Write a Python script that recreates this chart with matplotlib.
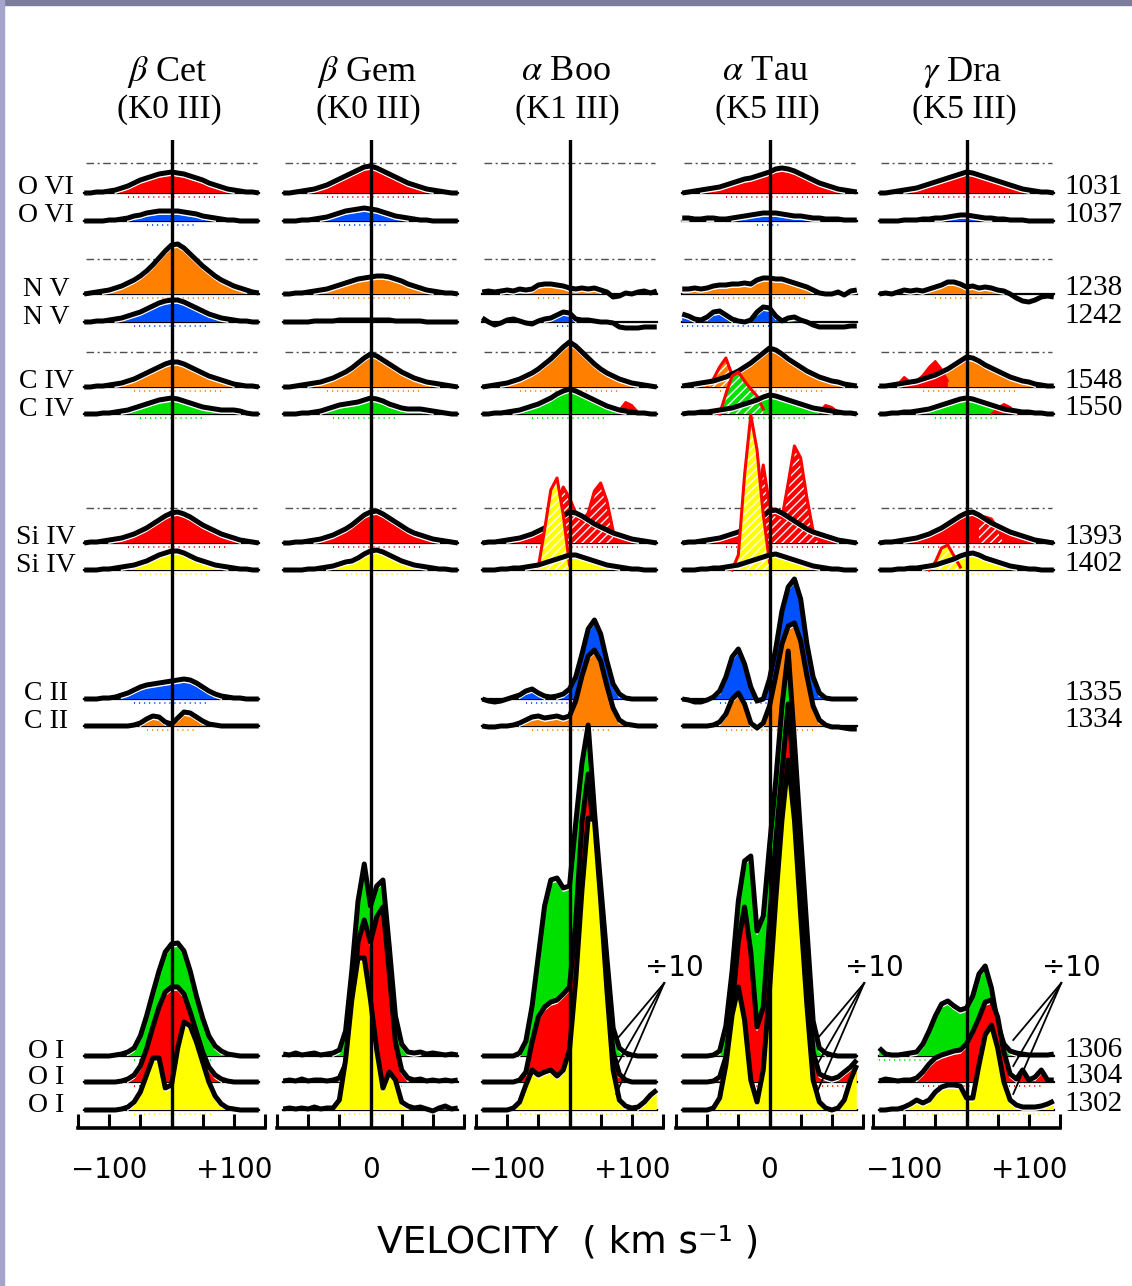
import numpy as np
import matplotlib.pyplot as plt
from matplotlib.patches import Rectangle
from matplotlib import transforms

plt.rcParams['mathtext.fontset'] = 'stix'
plt.rcParams['hatch.color'] = 'white'
plt.rcParams['hatch.linewidth'] = 1.0

# velocity grid of the tabulated profiles (km/s)
VEL = [-140, -130, -120, -110, -100, -90, -80, -70, -60, -50, -40, -30, -20, -10,
       0, 10, 20, 30, 40, 50, 60, 70, 80, 90, 100, 110, 120, 130, 140]

IONS = ['O VI', 'O VI', 'N V', 'N V', 'C IV', 'C IV', 'Si IV', 'Si IV',
        'C II', 'C II', 'O I', 'O I', 'O I']
WAVES = ['1031', '1037', '1238', '1242', '1548', '1550', '1393', '1402',
         '1335', '1334', '1306', '1304', '1302']
STARS = [r'$\beta$ Cet', r'$\beta$ Gem', r'$\alpha$ Boo', r'$\alpha$ Tau', r'$\gamma$ Dra']
SPTYPES = ['(K0 III)', '(K0 III)', '(K1 III)', '(K5 III)', '(K5 III)']

# line fluxes (O I shown divided by 10), one list per line, same order as WAVES
BETA_CET = [
    [0, 0, 1, 1, 2, 3, 5, 7, 10, 13, 15, 17, 19, 20, 21, 20, 19, 17, 15, 13, 10, 8, 6, 4, 3, 2, 1, 1, 0],
    [0, 0, 0, 0, 1, 1, 2, 3, 5, 6, 8, 9, 10, 10, 10, 10, 9, 8, 7, 5, 4, 3, 2, 1, 1, 0, 0, 0, 0],
    [0, 1, 2, 3, 4, 6, 8, 11, 14, 18, 23, 29, 36, 43, 49, 50, 46, 40, 34, 28, 23, 18, 14, 11, 8, 6, 4, 2, 1],
    [0, 0, 1, 1, 2, 3, 4, 6, 8, 10, 13, 16, 19, 21, 22, 22, 20, 17, 14, 11, 8, 6, 4, 3, 2, 1, 1, 0, 0],
    [0, 0, 1, 1, 2, 3, 4, 6, 8, 11, 14, 17, 20, 23, 25, 25, 23, 20, 17, 14, 11, 9, 7, 5, 3, 2, 1, 1, 0],
    [0, 0, 0, 1, 1, 2, 3, 4, 6, 8, 10, 12, 14, 15, 16, 15, 13, 11, 9, 7, 6, 5, 4, 4, 4, 3, 1, 0, 0],
    [0, 1, 1, 2, 3, 4, 5, 7, 9, 12, 15, 19, 23, 27, 30, 31, 29, 26, 22, 18, 15, 12, 9, 7, 5, 3, 2, 1, 0],
    [0, 0, 0, 1, 1, 2, 3, 4, 5, 7, 9, 12, 15, 17, 19, 19, 17, 14, 11, 9, 7, 5, 4, 3, 2, 1, 1, 0, 0],
    [0, 0, 0, 1, 1, 2, 4, 6, 9, 12, 14, 15, 16, 17, 18, 19, 20, 19, 16, 12, 8, 5, 3, 2, 1, 1, 0, 0, 0],
    [0, 0, 0, 0, 0, 0, 0, 0, 1, 3, 7, 10, 9, 4, 2, 8, 14, 13, 9, 5, 2, 1, 0, 0, 0, 0, 0, 0, 0],
    [0, 0, 0, 0, 0, 1, 2, 4, 8, 20, 40, 63, 85, 104, 112, 113, 105, 85, 60, 38, 20, 10, 5, 2, 1, 0, 0, 0, 0],
    [0, 0, 0, 0, 0, 0, 1, 3, 7, 16, 33, 55, 75, 90, 95, 95, 88, 70, 50, 30, 15, 7, 3, 1, 0, 0, 0, 0, 0],
    [0, 0, 0, 0, 0, 0, 1, 3, 8, 18, 35, 52, 52, 22, 25, 62, 88, 84, 68, 48, 28, 14, 6, 2, 1, 0, 0, 0, 0],
]

BETA_GEM = [
    [0, 0, 1, 2, 3, 4, 6, 8, 11, 14, 17, 20, 23, 26, 27, 25, 22, 19, 16, 13, 10, 8, 6, 4, 3, 2, 1, 0, 0],
    [0, 0, 0, 1, 1, 2, 3, 4, 6, 8, 10, 11, 12, 13, 12, 11, 9, 7, 5, 4, 3, 2, 1, 1, 0, 0, 0, 0, 0],
    [0, 0, 1, 1, 2, 3, 4, 5, 7, 9, 11, 13, 15, 16, 17, 18, 18, 17, 15, 13, 10, 8, 6, 4, 3, 2, 1, 1, 0],
    [0, 0, 0, 0, 0, 1, 1, 1, 1, 2, 2, 2, 2, 2, 2, 2, 2, 2, 1, 1, 1, 1, 1, 0, 0, 0, 0, 0, 0],
    [0, 0, 1, 2, 3, 4, 5, 7, 9, 12, 15, 19, 24, 29, 33, 31, 27, 23, 19, 15, 12, 9, 7, 5, 4, 3, 2, 1, 0],
    [0, 0, 0, 1, 1, 2, 3, 5, 7, 9, 10, 11, 12, 14, 16, 15, 13, 10, 8, 6, 5, 5, 5, 4, 3, 2, 1, 0, 0],
    [0, 0, 1, 1, 2, 3, 4, 6, 8, 11, 14, 18, 23, 28, 31, 32, 29, 25, 21, 17, 13, 10, 8, 6, 4, 3, 2, 1, 0],
    [0, 0, 0, 0, 1, 1, 2, 3, 4, 6, 8, 9, 12, 16, 19, 20, 18, 15, 12, 9, 7, 5, 4, 3, 2, 1, 1, 0, 0],
    None,
    None,
    [2, 1, 3, 1, 2, 3, 1, 2, 3, 6, 25, 85, 155, 192, 150, 170, 176, 110, 40, 12, 4, 3, 4, 2, 3, 2, 1, 2, 1],
    [1, 2, 1, 3, 1, 2, 2, 1, 2, 4, 18, 70, 140, 162, 140, 165, 175, 110, 40, 12, 4, 2, 3, 1, 2, 1, 2, 1, 2],
    [1, 2, 1, 2, 1, 3, 1, 2, 2, 10, 50, 110, 152, 152, 110, 60, 22, 38, 30, 8, 4, 2, 3, 1, -1, 2, 4, 1, 2],
]

ALPHA_BOO = [
    None,
    None,
    [2, 3, 2, 3, 4, 3, 5, 4, 5, 9, 10, 10, 9, 8, 6, 5, 6, 5, 6, 4, 2, -3, -2, 1, 0, 2, 3, 1, 3],
    [4, 0, -3, -1, 2, 3, 1, -1, -2, 1, 3, 4, 7, 10, 9, 3, 2, 2, 1, 0, 0, -1, -5, -6, -6, -6, -5, -5, -5],
    [0, 1, 2, 3, 4, 6, 8, 11, 14, 18, 23, 28, 34, 40, 45, 41, 35, 29, 23, 18, 14, 11, 8, 6, 4, 3, 2, 1, 0],
    [0, 0, 1, 1, 2, 3, 4, 6, 8, 10, 13, 16, 20, 23, 25, 23, 20, 17, 14, 11, 8, 6, 4, 3, 2, 1, 1, 0, 0],
    [0, 1, 1, 2, 3, 4, 5, 7, 9, 12, 15, 19, 23, 27, 31, 30, 27, 23, 19, 16, 13, 10, 8, 6, 4, 3, 2, 1, 0],
    [0, 0, 0, 1, 1, 2, 2, 3, 4, 5, 7, 9, 11, 13, 15, 15, 13, 11, 9, 7, 5, 4, 3, 2, 1, 1, 0, 0, 0],
    [0, -2, -3, -2, 0, 2, 4, 8, 10, 6, 3, 2, 3, 5, 10, 22, 45, 70, 79, 65, 38, 15, 5, 1, 0, 0, 0, 0, 0],
    [0, -1, -1, 0, 0, 1, 3, 6, 9, 10, 8, 9, 10, 8, 10, 25, 50, 70, 76, 65, 40, 18, 6, 2, 1, 0, 0, 0, 0],
    [0, 0, 0, 0, 0, 0, 3, 15, 50, 100, 150, 176, 178, 168, 170, 233, 293, 331, 245, 171, 98, 28, 8, 3, 1, 0, 0, 0, 0],
    [0, 0, 0, 0, 0, 0, 2, 10, 40, 65, 75, 80, 82, 88, 95, 160, 260, 308, 240, 160, 90, 30, 8, 2, 0, 0, 0, 0, 0],
    [0, 0, 0, 0, 0, 2, 8, 25, 40, 35, 38, 40, 34, 40, 60, 130, 220, 292, 290, 210, 120, 40, 10, 4, 2, 3, 8, 15, 20],
]

ALPHA_TAU = [
    [0, 1, 2, 3, 4, 5, 6, 8, 10, 12, 14, 15, 17, 19, 21, 24, 25, 24, 22, 19, 16, 13, 10, 8, 6, 4, 3, 2, 1],
    [3, 3, 2, 2, 3, 3, 2, 2, 3, 4, 5, 6, 7, 8, 8, 8, 7, 6, 5, 5, 4, 3, 3, 2, 2, 2, 1, 1, 1],
    [5, 5, 6, 5, 6, 8, 9, 9, 10, 10, 11, 10, 14, 16, 16, 15, 15, 13, 11, 9, 7, 4, 1, 0, 0, 2, -1, 3, 4],
    [8, 6, 3, 2, 5, 10, 11, 7, 3, 1, 0, 2, 10, 15, 14, 6, 1, 4, 5, 2, 0, -3, -5, -5, -5, -5, -5, -4, -4],
    [1, 2, 3, 4, 5, 6, 8, 10, 13, 16, 20, 24, 29, 34, 39, 37, 33, 28, 24, 20, 16, 13, 10, 8, 6, 5, 3, 2, 1],
    [0, 1, 1, 2, 2, 3, 4, 5, 6, 8, 10, 12, 14, 17, 19, 18, 16, 14, 12, 10, 8, 6, 5, 4, 3, 2, 1, 1, 0],
    [0, 1, 1, 2, 3, 4, 5, 7, 9, 11, 14, 18, 22, 27, 32, 33, 30, 26, 22, 18, 14, 11, 9, 7, 5, 3, 2, 1, 0],
    [0, 0, 0, 1, 1, 2, 2, 3, 4, 5, 7, 9, 11, 13, 15, 16, 14, 12, 10, 8, 6, 4, 3, 2, 1, 1, 0, 0, 0],
    [0, -1, -3, -3, -1, 2, 8, 22, 42, 50, 35, 12, -2, 0, 20, 50, 88, 112, 120, 100, 55, 22, 6, 1, 0, 0, 0, 0, 0],
    [0, 0, 0, 0, 0, 1, 4, 12, 27, 33, 22, 3, -2, 3, 20, 50, 82, 100, 103, 85, 50, 20, 6, 1, -1, -1, -2, -3, -3],
    [0, 0, 0, 0, 0, 1, 5, 30, 85, 155, 195, 200, 125, 140, 210, 275, 350, 405, 315, 220, 127, 35, 8, 3, 1, 0, 0, 0, 0],
    [0, 0, 0, 0, 0, 1, 5, 25, 75, 140, 175, 130, 55, 75, 160, 240, 310, 378, 300, 205, 115, 30, 8, 5, 3, 5, 10, 15, 22],
    [0, 0, 0, 0, 0, 2, 12, 45, 95, 123, 90, 30, 8, 40, 120, 210, 290, 350, 290, 195, 105, 30, 8, 2, 0, 2, 10, 30, 45],
]

GAMMA_DRA = [
    [0, 0, 1, 2, 3, 4, 5, 7, 9, 11, 13, 15, 17, 19, 21, 20, 18, 16, 14, 12, 10, 8, 6, 4, 3, 2, 1, 1, 0],
    [0, 0, 0, 0, 1, 1, 1, 2, 2, 3, 3, 4, 5, 6, 6, 5, 4, 3, 3, 2, 2, 1, 1, 1, 0, 0, 0, 0, 0],
    [0, 1, 0, 2, 4, 3, 4, 3, 5, 7, 9, 12, 12, 10, 7, 8, 6, 7, 6, 4, 3, 0, -4, -7, -8, -6, -3, -2, -3],
    None,
    [1, 1, 2, 3, 4, 5, 6, 8, 10, 12, 15, 18, 22, 26, 30, 29, 26, 22, 19, 16, 13, 10, 8, 6, 5, 3, 2, 1, 1],
    [0, 0, 1, 1, 2, 2, 3, 4, 5, 7, 9, 11, 13, 15, 16, 15, 13, 11, 9, 7, 5, 4, 3, 2, 2, 1, 1, 0, 0],
    [0, 1, 1, 2, 3, 4, 5, 7, 9, 12, 15, 19, 23, 27, 30, 31, 28, 24, 20, 17, 14, 11, 9, 7, 5, 3, 2, 1, 0],
    [0, 0, 0, 1, 1, 2, 2, 3, 4, 5, 7, 9, 11, 14, 16, 17, 15, 12, 10, 8, 6, 4, 3, 2, 1, 1, 0, 0, 0],
    None,
    None,
    [8, 2, 1, 1, 2, 3, 4, 12, 25, 40, 52, 55, 50, 46, 48, 60, 82, 90, 68, 32, 12, 5, 3, 2, 1, 1, 1, 1, 2],
    [1, 3, 2, 1, 2, 2, 4, 10, 18, 24, 27, 29, 31, 32, 38, 50, 64, 80, 82, 65, 30, 8, 3, 12, 2, 5, 12, 2, 2],
    [0, 0, 1, 1, 3, 6, 10, 7, 10, 18, 23, 25, 25, 24, 12, 12, 45, 75, 85, 62, 28, 10, 5, 3, 3, 3, 4, 6, 9],
]

# blended features: (line index, velocities, flux)
BLEND_ABOO = [
    (6, [-30, -20, -10, 0, 10, 20, 30, 40, 50, 60, 70], [15, 40, 56, 45, 30, 22, 30, 52, 60, 42, 12]),
    (7, [-50, -40, -30, -20, -10, 0], [3, 40, 80, 92, 55, 5]),
]
BLEND_ATAU = [
    (4, [-100, -90, -80, -70, -60, -50], [2, 8, 20, 29, 12, 2]),
    (5, [-80, -70, -60, -50, -40, -30, -20, -10], [0, 20, 38, 42, 33, 25, 18, 5]),
    (6, [-30, -20, -10, 0, 10, 20, 30, 40, 50, 60, 70, 80], [15, 40, 78, 38, 28, 25, 60, 97, 85, 45, 12, 2]),
    (7, [-60, -50, -40, -30, -20, -10, 0], [0, 15, 95, 155, 120, 55, 8]),
]
BLEND_GDRA = [
    (6, [20, 30, 40, 50, 60], [20, 26, 24, 14, 3]),
    (7, [-60, -50, -40, -30, -20, -10], [0, 8, 22, 25, 14, 3]),
]

# residual emission left after subtraction: (line index, velocities, flux)
RESID_ABOO = [(5, [80, 90, 100, 110], [4, 12, 9, 2])]
RESID_ATAU = [(5, [80, 90, 100, 110], [3, 9, 7, 2])]
RESID_GDRA = [
    (4, [-110, -100, -90, -80, -70, -60, -50, -40, -30], [3, 10, 5, 6, 12, 20, 26, 18, 6]),
    (5, [40, 50, 60, 70, 80], [0, 6, 10, 7, 0]),
]

PROFILES = [BETA_CET, BETA_GEM, ALPHA_BOO, ALPHA_TAU, GAMMA_DRA]
BLENDS = [[], [], BLEND_ABOO, BLEND_ATAU, BLEND_GDRA]
RESIDS = [[], [], RESID_ABOO, RESID_ATAU, RESID_GDRA]
TICK_TEXT = [['−100', '+100'], ['0'], ['−100', '+100'], ['0'], ['−100', '+100']]
TICK_AT = [[-100, 100], [0], [-100, 100], [0], [-100, 100]]
SCALED = [False, False, True, True, True]

LINE_COLORS = ['#ff0000', '#0050ff', '#ff8000', '#0050ff', '#ff8000', '#00e000',
               '#ff0000', '#ffff00', '#0050ff', '#ff8000', '#00e000', '#ff0000', '#ffff00']

# layout in pixels
FIG_W, FIG_H = 1132, 1286
PANEL_LEFT = [78, 277, 476, 676, 873]
PANEL_W = 187
AX_TOP, AX_BOT = 140, 1128
BASE = [935, 907, 834, 806, 741, 714, 585, 558, 429, 402, 72, 46, 18]
GUIDES = [965, 869, 776, 620]

SERIF = 'Liberation Serif'


def draw_profile(ax, v, f, base, color, z):
    ax.plot([v[0], v[-1]], [base, base], color='black', lw=1.6, zorder=z)
    ax.fill_between(v, base, base + np.maximum(f - 3.5, 0), facecolor=color,
                    lw=0, zorder=z + 0.1)
    inside = v[f > 6]
    if inside.size:
        ax.plot([inside[0], inside[-1]], [base - 3.5, base - 3.5], color=color,
                lw=1.3, ls=(0, (0.6, 2.2)), zorder=z + 0.05)
    # thin white edge between the fill and the black outline
    edge = np.where(f >= 3, base + f - 3, np.nan)
    ax.plot(v, edge, color='white', lw=1.3, zorder=z + 0.3)
    ax.plot(v, base + f, color='black', lw=3.6, zorder=z + 0.4,
            solid_joinstyle='round', solid_capstyle='butt')


fig = plt.figure(figsize=(FIG_W / 100, FIG_H / 100), dpi=100)
fig.patch.set_facecolor('white')

vel = np.array(VEL, float)
axes = []
for k in range(5):
    ax = fig.add_axes([PANEL_LEFT[k] / FIG_W, 1 - AX_BOT / FIG_H,
                       PANEL_W / FIG_W, (AX_BOT - AX_TOP) / FIG_H])
    ax.set_xlim(-150, 150)
    ax.set_ylim(0, AX_BOT - AX_TOP)
    ax.patch.set_visible(False)
    for s in ['left', 'right', 'top']:
        ax.spines[s].set_visible(False)
    ax.spines['bottom'].set_linewidth(2.6)
    ax.set_yticks([])
    ax.set_xticks([-150, -100, -50, 0, 50, 100, 150])
    labels = ['' for _ in range(7)]
    for t, txt in zip(TICK_AT[k], TICK_TEXT[k]):
        labels[(t + 150) // 50] = txt
    ax.set_xticklabels(labels, fontsize=20, family='DejaVu Sans')
    ax.tick_params(axis='x', direction='in', length=10, width=2.2, pad=20)
    axes.append(ax)

    for g in GUIDES:
        ax.plot([-137, 137], [g, g], color='#505050', lw=1.0,
                ls=(0, (5.5, 2.5, 1.5, 2.5)), zorder=1)

    for i, flux in enumerate(PROFILES[k]):
        if flux is None:
            continue
        z = 2 + i
        draw_profile(ax, vel, np.array(flux, float), BASE[i], LINE_COLORS[i], z)
        for li, bv, bh in BLENDS[k]:
            if li != i:
                continue
            bv = np.array(bv, float)
            bh = np.array(bh, float)
            ax.fill_between(bv, BASE[i], BASE[i] + bh, facecolor=LINE_COLORS[i],
                            edgecolor='white', hatch='////', lw=0, zorder=z + 0.2)
            ax.plot(bv, BASE[i] + bh, color='#ff0000', lw=2.2, zorder=z + 0.25)
        for li, rv, rh in RESIDS[k]:
            if li != i:
                continue
            rv = np.array(rv, float)
            rh = np.array(rh, float)
            ax.fill_between(rv, BASE[i], BASE[i] + rh, facecolor='#ff0000',
                            lw=0, zorder=z + 0.2)
            ax.plot(rv, BASE[i] + rh, color='#ff0000', lw=1.5, zorder=z + 0.25)

    ax.axvline(0, color='black', lw=2.4, zorder=50)

    # star name and spectral type
    ax.text(-6, AX_BOT - 72, STARS[k], ha='center', va='center', fontsize=26,
            family=SERIF, clip_on=False)
    ax.text(-3, AX_BOT - 110, SPTYPES[k], ha='center', va='center', fontsize=24,
            family=SERIF, clip_on=False)

    # the O I profiles are scaled down by 10
    if SCALED[k]:
        ax.text(168, 160, '÷10', ha='center', va='center', fontsize=20,
                family='DejaVu Sans', clip_on=False)
        for j in (10, 11, 12):
            ax.plot([152, 75], [145, BASE[j] + 16], color='black', lw=1.3,
                    zorder=60, clip_on=False)

# ion labels on the left, wavelengths on the right
trans = transforms.blended_transform_factory(fig.transFigure, axes[0].transData)
for i in range(len(IONS)):
    fig.text(46 / FIG_W, BASE[i] + 5, IONS[i], transform=trans, ha='center',
             va='center', fontsize=20, family=SERIF)
    fig.text(1064 / FIG_W, BASE[i] + 6, WAVES[i], transform=trans, ha='left',
             va='center', fontsize=21, family=SERIF)

fig.text(568 / FIG_W, 1 - 1243 / FIG_H, 'VELOCITY  ( km s⁻¹ )', ha='center',
         va='center', fontsize=27, family='DejaVu Sans')

# window frame
fig.patches.append(Rectangle((0, 1 - 5 / FIG_H), 1, 5 / FIG_H, transform=fig.transFigure,
                             color='#7c7c9c', zorder=100))
fig.patches.append(Rectangle((0, 0), 4 / FIG_W, 1, transform=fig.transFigure,
                             color='#a4a4cc', zorder=100))

fig.savefig('out.png', dpi=100)
